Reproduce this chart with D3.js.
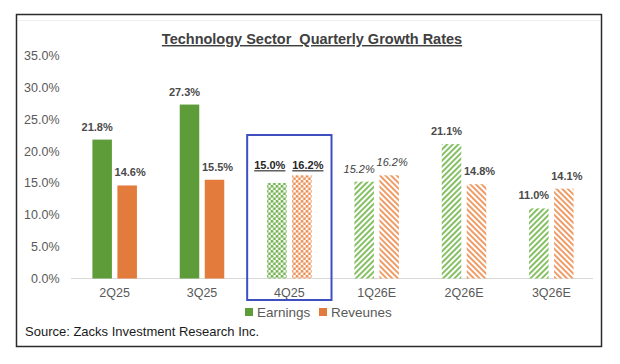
<!DOCTYPE html>
<html>
<head>
<meta charset="utf-8">
<script src="https://cdn.jsdelivr.net/npm/d3@7"></script>
<style>
  body { margin: 0; background: #fff; }
  text { font-family: Arial, "Liberation Sans", sans-serif; }
</style>
</head>
<body>
<div id="chart"></div>
<script>
// chart data
var quarters = ["2Q25", "3Q25", "4Q25", "1Q26E", "2Q26E", "3Q26E"];
var earnings = [21.8, 27.3, 15.0, 15.2, 21.1, 11.0];
var revenues = [14.6, 15.5, 16.2, 16.2, 14.8, 14.1];
var yTicks = [0, 5, 10, 15, 20, 25, 30, 35];
// fill style per quarter: actual, current (highlighted), estimate
var fillKind = ["solid", "solid", "dots", "stripes", "stripes", "stripes"];
var seriesNames = ["Earnings", "Reveunes"];

var svgWidth = 620;
var svgHeight = 364;

var green = "#5E9C3A";
var orange = "#E27B3B";
var greenLight = "#86C064";
var orangeLight = "#EE9D68";

var svg = d3.select("#chart")
    .append("svg")
    .attr("width", svgWidth)
    .attr("height", svgHeight);

// patterns
var defs = svg.append("defs");

function stripePattern(id, color, angle) {
    var p = defs.append("pattern")
        .attr("id", id)
        .attr("patternUnits", "userSpaceOnUse")
        .attr("width", 4)
        .attr("height", 4)
        .attr("patternTransform", "rotate(" + angle + ")");
    p.append("rect").attr("width", 4).attr("height", 4).attr("fill", "#fff");
    p.append("rect").attr("width", 2).attr("height", 4).attr("fill", color);
}

function dotPattern(id, color) {
    var p = defs.append("pattern")
        .attr("id", id)
        .attr("patternUnits", "userSpaceOnUse")
        .attr("width", 5)
        .attr("height", 5);
    p.append("rect").attr("width", 5).attr("height", 5).attr("fill", "#fff");
    p.append("circle").attr("cx", 1.25).attr("cy", 1.25).attr("r", 1.5).attr("fill", color);
    p.append("circle").attr("cx", 3.75).attr("cy", 3.75).attr("r", 1.5).attr("fill", color);
}

stripePattern("stripeGreen", greenLight, 45);
stripePattern("stripeOrange", orangeLight, -45);
dotPattern("dotGreen", "#74B352");
dotPattern("dotOrange", "#EA9259");

function barFill(i, s) {
    var kind = fillKind[i];
    if (kind === "solid") return s === 0 ? green : orange;
    if (kind === "dots") return s === 0 ? "url(#dotGreen)" : "url(#dotOrange)";
    return s === 0 ? "url(#stripeGreen)" : "url(#stripeOrange)";
}

// frame
svg.append("rect")
    .attr("x", 16.5)
    .attr("y", 14.5)
    .attr("width", 585)
    .attr("height", 332)
    .attr("fill", "#fff")
    .attr("stroke", "#2b2b2b")
    .attr("stroke-width", 1.5);

svg.append("line")
    .attr("x1", 18).attr("x2", 600)
    .attr("y1", 20.5).attr("y2", 20.5)
    .attr("stroke", "#efefef");

// title
svg.append("text")
    .attr("x", 312)
    .attr("y", 44)
    .attr("text-anchor", "middle")
    .style("white-space", "pre")
    .attr("font-size", "14.5px")
    .attr("font-weight", "bold")
    .attr("fill", "#404040")
    .attr("text-decoration", "underline")
    .text("Technology Sector  Quarterly Growth Rates");

// scales
var xScale = d3.scaleBand()
    .domain(quarters)
    .range([71, 595]);

var xSub = d3.scaleBand()
    .domain([0, 1])
    .range([0, xScale.bandwidth()])
    .paddingInner(0.22)
    .paddingOuter(0.856);

var yScale = d3.scaleLinear()
    .domain([0, 35])
    .range([278.5, 55.5]);

// y axis labels
var leftAxis = d3.axisLeft(yScale)
    .tickValues(yTicks)
    .tickSize(0)
    .tickPadding(0)
    .tickFormat(function(d) { return d3.format(".1f")(d) + "%"; });

var yAxis = svg.append("g")
    .attr("transform", "translate(59.5,0)")
    .call(leftAxis);
yAxis.select(".domain").remove();
yAxis.selectAll("text")
    .attr("font-size", "12.5px")
    .attr("fill", "#595959")
    .attr("font-family", "Arial, 'Liberation Sans', sans-serif");

// x axis
var bottomAxis = d3.axisBottom(xScale)
    .tickSize(0)
    .tickPadding(10);

var xAxis = svg.append("g")
    .attr("transform", "translate(0," + yScale(0) + ")")
    .call(bottomAxis);
xAxis.select(".domain")
    .attr("stroke", "#d9d9d9")
    .attr("stroke-width", 1.2)
    .attr("d", "M71,0H593");
xAxis.selectAll("text")
    .attr("font-size", "12.5px")
    .attr("fill", "#595959")
    .attr("font-family", "Arial, 'Liberation Sans', sans-serif");

// bars
var rows = quarters.map(function(q, i) {
    return { q: q, i: i, vals: [earnings[i], revenues[i]] };
});

var groups = svg.append("g")
    .selectAll("g")
    .data(rows)
    .enter()
    .append("g")
    .attr("transform", function(d) { return "translate(" + xScale(d.q) + ",0)"; });

groups.selectAll("rect")
    .data(function(d) { return d.vals.map(function(v, s) { return { v: v, s: s, i: d.i }; }); })
    .enter()
    .append("rect")
    .attr("x", function(d) { return xSub(d.s); })
    .attr("y", function(d) { return yScale(d.v); })
    .attr("width", xSub.bandwidth())
    .attr("height", function(d) { return yScale(0) - yScale(d.v); })
    .attr("fill", function(d) { return barFill(d.i, d.s); });

// value labels
groups.each(function(d) {
    var g = d3.select(this);
    var kind = fillKind[d.i];
    var topVal = d3.max(d.vals);
    d.vals.forEach(function(v, s) {
        var cx = xSub(s) + xSub.bandwidth() / 2 + (s === 0 ? -5 : 3);
        var y = yScale(v) - 9;
        if (kind === "dots") {
            cx = xSub(s) + xSub.bandwidth() / 2 + (s === 0 ? -7 : 6);
            y = yScale(topVal) - 6;
        }
        var t = g.append("text")
            .attr("x", cx)
            .attr("y", y)
            .attr("text-anchor", "middle")
            .attr("font-size", "11px")
            .attr("font-weight", "bold")
            .attr("fill", "#4a4a4a")
            .text(d3.format(".1f")(v) + "%");
        if (kind === "dots") {
            t.attr("text-decoration", "underline").attr("fill", "#262626");
        }
        if (d.i === 3) {
            t.attr("font-style", "italic").attr("font-weight", "normal").attr("fill", "#404040");
        }
    });
});

// highlight box around the current quarter
var hx = xScale("4Q25");
svg.append("rect")
    .attr("x", hx + 1.5)
    .attr("y", 135)
    .attr("width", xScale.bandwidth() - 3)
    .attr("height", 165)
    .attr("fill", "none")
    .attr("stroke", "#3F4FBF")
    .attr("stroke-width", 2);

// legend
var legend = svg.append("g")
    .attr("transform", "translate(245,308)");

var legendItems = legend.selectAll("g")
    .data(seriesNames)
    .enter()
    .append("g")
    .attr("transform", function(d, i) { return "translate(" + (i * 74) + ",0)"; });

legendItems.append("rect")
    .attr("width", 8)
    .attr("height", 8)
    .attr("fill", function(d, i) { return i === 0 ? green : orange; });

legendItems.append("text")
    .attr("x", 12)
    .attr("y", 8.5)
    .attr("font-family", "Lato, 'Open Sans', sans-serif")
    .attr("font-size", "13.5px")
    .attr("fill", "#595959")
    .text(function(d) { return d; });

// source note
svg.append("text")
    .attr("x", 25)
    .attr("y", 336)
    .attr("font-size", "13px")
    .attr("fill", "#1a1a1a")
    .text("Source: Zacks Investment Research Inc.");
</script>
</body>
</html>
